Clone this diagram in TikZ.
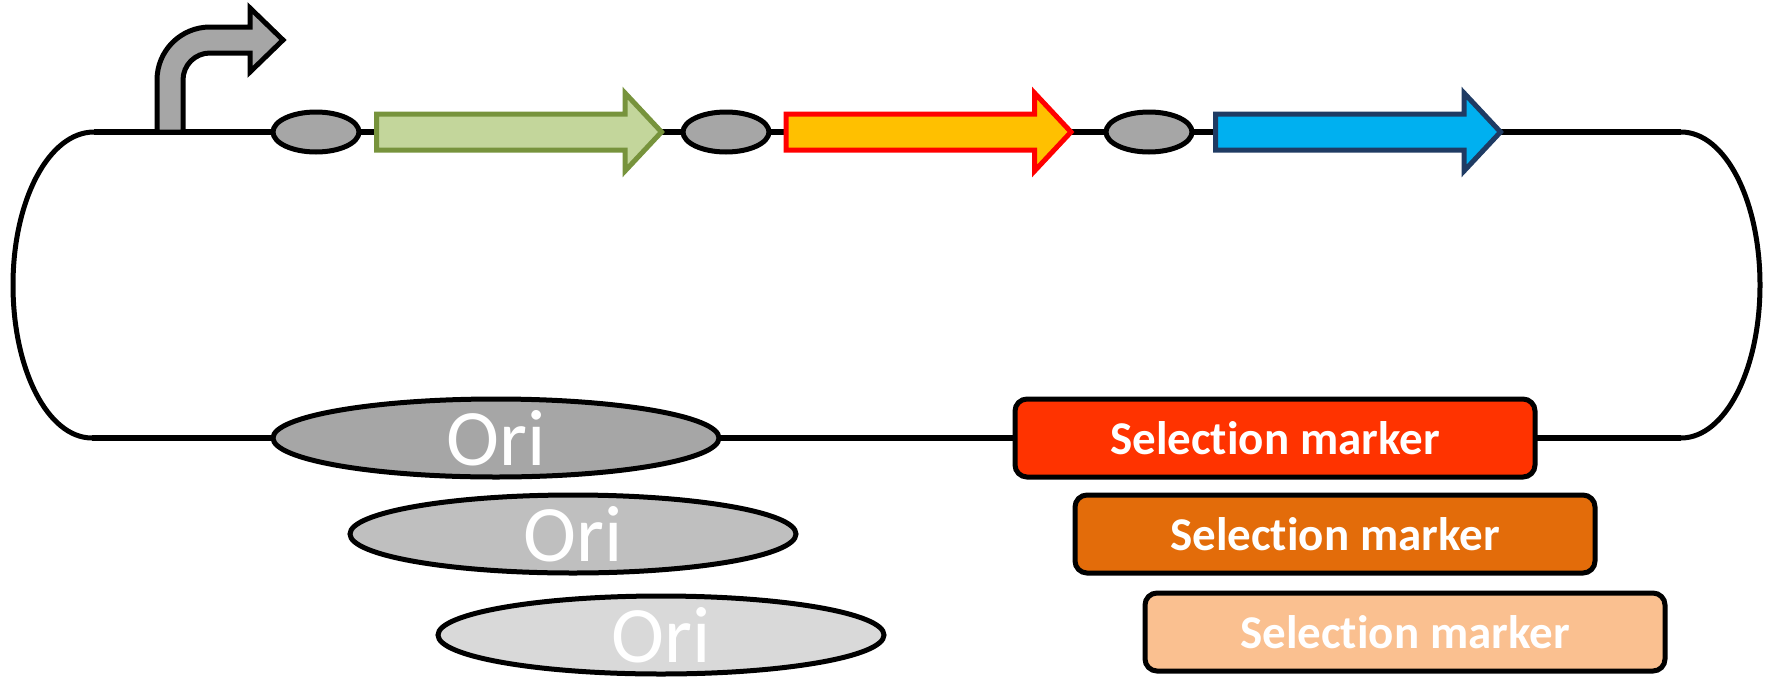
\documentclass[tikz,border=0pt]{standalone}
\usepackage{fontspec}
\setmainfont{Carlito}[Ligatures={NoCommon}]
\usetikzlibrary{shapes.geometric}
\definecolor{gA}{HTML}{A6A6A6}
\definecolor{gB}{HTML}{BFBFBF}
\definecolor{gC}{HTML}{D9D9D9}
\definecolor{grnF}{HTML}{C3D69B}
\definecolor{grnD}{HTML}{77933C}
\definecolor{ylwF}{HTML}{FFC000}
\definecolor{redD}{HTML}{FF0000}
\definecolor{bluF}{HTML}{00B0F0}
\definecolor{bluD}{HTML}{1F3B63}
\definecolor{smA}{HTML}{FF3300}
\definecolor{smB}{HTML}{E36C0A}
\definecolor{smC}{HTML}{FAC090}
\tikzset{
  backbone/.style={line width=5.8pt},
  sidecurve/.style={line width=5pt},
  rbs/.style={ellipse, draw, line width=5pt, fill=gA, minimum width=86pt, minimum height=40pt, inner sep=0pt},
  oribox/.style={ellipse, draw, line width=5pt, minimum width=446pt, minimum height=78pt, inner sep=0pt},
  oritext/.style={text=white, font=\fontsize{80}{80}\selectfont, inner sep=0pt},
  selbox/.style={rectangle, rounded corners=12pt, draw, line width=5pt, minimum width=520pt, minimum height=78pt, inner sep=0pt, text=white, font=\bfseries\fontsize{47}{47}\selectfont},
  genearrow/.style={line width=5pt, line join=miter},
}
\newcommand\gene[3]{\draw[genearrow, fill=#2, draw=#3] (#1,114) -- ++(248.5,0) -- ++(0,-21) -- ++(36.5,39) -- ++(-36.5,39) -- ++(0,-21) -- ++(-248.5,0) -- cycle;}
\begin{document}
\begin{tikzpicture}[x=1pt,y=-1pt]
\path[use as bounding box] (0,0) rectangle (1773,678);
% backbone corners
\coordinate (tl) at (94,132);
\coordinate (tr) at (1681,132);
\coordinate (bl) at (92,438);
\coordinate (br) at (1681,438);
\coordinate (lm) at (13,285);
\coordinate (rm) at (1760,285);
\draw[backbone] (tl) -- (tr);
\draw[backbone] (bl) -- (br);
\draw[sidecurve] (tl) .. controls (49,132) and (13,200) .. (lm) .. controls (13,370) and (48,438) .. (bl);
\draw[sidecurve] (tr) .. controls (1725,132) and (1760,200) .. (rm) .. controls (1760,370) and (1725,438) .. (br);
% promoter
\draw[line width=5pt, fill=gA, line join=miter]
  (157,132) -- (157,80) .. controls (157,50.7) and (180.7,27) .. (210,27)
  -- (250,27) -- (250,8) -- (283,40) -- (250,72) -- (250,53) -- (210,53)
  .. controls (195.1,53) and (183,65.1) .. (183,80) -- (183,132) -- cycle;
% RBS
\node[rbs] (r1) at (316,132) {};
\node[rbs] (r2) at (726,132) {};
\node[rbs] (r3) at (1149,132) {};
% genes
\gene{376.5}{grnF}{grnD}
\gene{786}{ylwF}{redD}
\gene{1215.5}{bluF}{bluD}
% Ori
\node[oribox, fill=gA] (o1) at (496,438) {};
\node[oritext] (o1t) at (o1.center) {Ori};
\node[oribox, fill=gB] (o2) at (573,534) {};
\node[oritext] (o2t) at (o2.center) {Ori};
\node[oribox, fill=gC] (o3) at (661,635) {};
\node[oritext] (o3t) at (o3.center) {Ori};
% selection markers
\node[selbox, fill=smA] (s1) at (1275,438) {Selection marker};
\node[selbox, fill=smB] (s2) at (1335,534) {Selection marker};
\node[selbox, fill=smC] (s3) at (1405,632) {Selection marker};
\end{tikzpicture}
\end{document}
